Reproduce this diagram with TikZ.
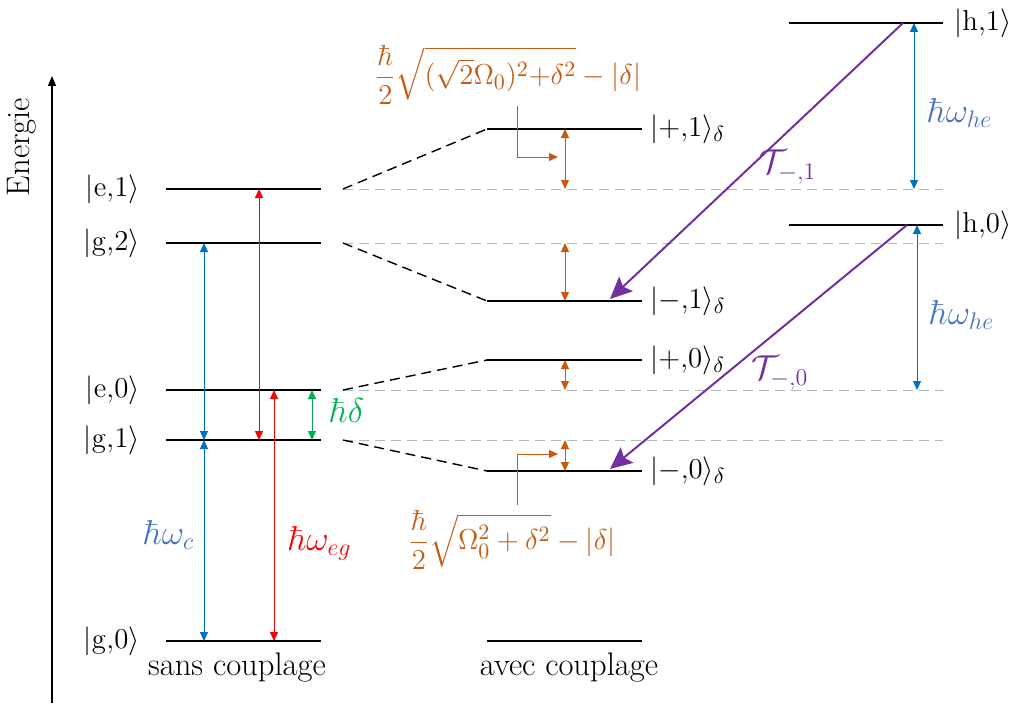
\documentclass[tikz,border=0pt]{standalone}
\usepackage{amsmath}
\usetikzlibrary{arrows.meta}
\definecolor{orng}{HTML}{C55A11}
\definecolor{arrblue}{HTML}{0070C0}
\definecolor{lblblue}{HTML}{4472C4}
\definecolor{myred}{HTML}{FF0000}
\definecolor{mygreen}{HTML}{00B050}
\definecolor{mypurple}{HTML}{7030A0}
\definecolor{mygray}{HTML}{ADB9CA}
\begin{document}
\begin{tikzpicture}[x=0.5pt,y=-0.5pt,
  every node/.style={font=\fontsize{15}{18}\selectfont, inner sep=0pt},
  bigtxt/.style={font=\fontsize{16.3}{19}\selectfont},
  biglbl/.style={font=\fontsize{17.28}{20}\selectfont},
  lvl/.style={line width=1.2pt, black},
  grayline/.style={line width=0.5pt, mygray, dash pattern=on 5pt off 3pt},
  blackdash/.style={line width=0.7pt, black, dash pattern=on 5pt off 3pt},
  dbl/.style={line width=0.5pt, {Triangle[length=4.5pt,width=4pt]}-{Triangle[length=4.5pt,width=4pt]}},
  lead/.style={line width=0.5pt, orng, -{Triangle[length=4.5pt,width=4pt]}},
  trans/.style={line width=1pt, mypurple, -{Stealth[length=11pt,width=10pt,inset=2pt]}},
  ketL/.style={anchor=base east},
  ketR/.style={anchor=base west}]
\useasboundingbox (0,0) rectangle (1021,706);

% energy axis
\coordinate (axB) at (52,703);
\coordinate (axT) at (52,76);
\draw[line width=0.6pt, -{Triangle[length=5pt,width=4pt]}] (axB) -- (axT);
\node[rotate=90, bigtxt] (energie) at (22,147) {Energie};

% left levels (sans couplage)
\foreach \n/\y/\t in {e1/189/{\mathrm{e}{,}1}, g2/243/{\mathrm{g}{,}2}, e0/390/{\mathrm{e}{,}0}, g1/440/{\mathrm{g}{,}1}, g0/641/{\mathrm{g}{,}0}}{
  \coordinate (\n a) at (166,\y);
  \coordinate (\n b) at (321,\y);
  \draw[lvl] (\n a) -- (\n b);
  \node[ketL] (lab\n) at (140,\y+7.5) {$|\t\rangle$};
}
\node[bigtxt] (sans) at (237,668) {sans couplage};

% middle levels (avec couplage)
\foreach \n/\y/\t in {p1/129/{{+}{,}1}, m1/301/{{-}{,}1}, p0/360/{{+}{,}0}, m0/471/{{-}{,}0}}{
  \coordinate (\n a) at (487,\y);
  \coordinate (\n b) at (642,\y);
  \draw[lvl] (\n a) -- (\n b);
  \node[ketR] (lab\n) at (650,\y+7.5) {$|\t\rangle_\delta$};
}
\coordinate (zza) at (487,641);
\coordinate (zzb) at (642,641);
\draw[lvl] (zza) -- (zzb);
\node[bigtxt] (avec) at (569,668) {avec couplage};

% right levels
\foreach \n/\y/\t in {h1/23/{\mathrm{h}{,}1}, h0/225/{\mathrm{h}{,}0}}{
  \coordinate (\n a) at (789,\y);
  \coordinate (\n b) at (943,\y);
  \draw[lvl] (\n a) -- (\n b);
  \node[ketR] (lab\n) at (954,\y+7.5) {$|\t\rangle$};
}

% gray dashed reference lines
\foreach \n/\y in {e1/189, g2/243, e0/390, g1/440}{
  \coordinate (gs\n) at (343,\y);
  \coordinate (ge\n) at (943,\y);
  \draw[grayline] (gs\n) -- (ge\n);
}

% black dashed correlation lines
\draw[blackdash] (gse1) -- (p1a);
\draw[blackdash] (gsg2) -- (m1a);
\draw[blackdash] (gse0) -- (p0a);
\draw[blackdash] (gsg1) -- (m0a);

% left arrows
\coordinate (bc1) at (204,243); \coordinate (bc2) at (204,440); \coordinate (bc3) at (204,641);
\draw[dbl, arrblue] (bc1) -- (bc2);
\draw[dbl, arrblue] (bc2) -- (bc3);
\coordinate (r1) at (259,189); \coordinate (r2) at (259,440);
\draw[dbl, myred] (r1) -- (r2);
\coordinate (r3) at (274,390); \coordinate (r4) at (274,641);
\draw[dbl, myred] (r3) -- (r4);
\coordinate (gr1) at (312,390); \coordinate (gr2) at (312,440);
\draw[dbl, mygreen] (gr1) -- (gr2);
\node[text=mygreen, biglbl] (hd) at (347,410) {$\hbar\delta$};
\node[text=lblblue, biglbl] (hwc) at (169,535) {$\hbar\omega_c$};
\node[text=myred, biglbl] (hweg) at (320,543) {$\hbar\omega_{eg}$};

% middle orange arrows
\foreach \i/\ya/\yb in {1/129/189, 2/243/301, 3/360/390, 4/440/471}{
  \coordinate (oa\i) at (565,\ya);
  \coordinate (ob\i) at (565,\yb);
  \draw[dbl, orng] (oa\i) -- (ob\i);
}

% orange formulas
\node[text=orng] (ftop) at (508,75) {$\dfrac{\hbar}{2}\sqrt{(\sqrt{2}\Omega_0)^2{+}\delta^2}-|\delta|$};
\coordinate (ltA) at (517,106);
\coordinate (ltB) at (558,157);
\draw[lead] (ltA) |- (ltB);
\node[text=orng] (fbot) at (512,540) {$\dfrac{\hbar}{2}\sqrt{\Omega_0^2+\delta^2}-|\delta|$};
\coordinate (lbA) at (517,505);
\coordinate (lbB) at (558,454);
\draw[lead] (lbA) |- (lbB);

% right blue arrows
\coordinate (hb1) at (914,23); \coordinate (hb2) at (914,189);
\draw[dbl, arrblue] (hb1) -- (hb2);
\coordinate (hb3) at (917,225); \coordinate (hb4) at (917,390);
\draw[dbl, arrblue] (hb3) -- (hb4);
\node[text=lblblue, biglbl] (hwhe1) at (960,113) {$\hbar\omega_{he}$};
\node[text=lblblue, biglbl] (hwhe2) at (962,315) {$\hbar\omega_{he}$};

% purple transitions
\coordinate (t1s) at (903,23); \coordinate (t1e) at (610,299);
\draw[trans] (t1s) -- (t1e);
\coordinate (t0s) at (907,225); \coordinate (t0e) at (610,469);
\draw[trans] (t0s) -- (t0e);
\node[text=mypurple, biglbl] (T1) at (788,167) {$\mathcal{T}_{-,1}$};
\node[text=mypurple, biglbl] (T0) at (780,373) {$\mathcal{T}_{-,0}$};
\end{tikzpicture}
\end{document}
